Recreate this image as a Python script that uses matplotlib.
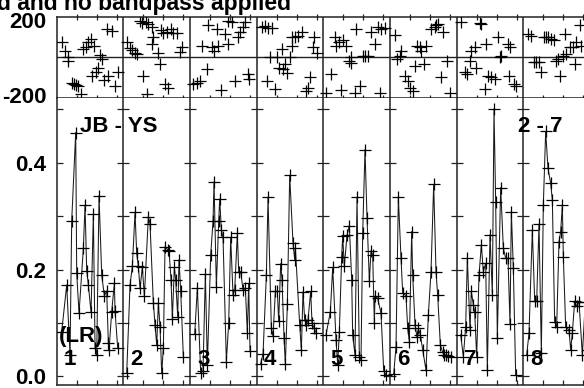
import matplotlib
matplotlib.use("Agg")
import matplotlib.pyplot as plt
from matplotlib.transforms import ScaledTranslation

plt.rcParams['font.family'] = ['Liberation Sans', 'DejaVu Sans']
plt.rcParams['font.weight'] = 'bold'

# ---------------- data (per panel / time segment) ----------------
panel_numbers = ['1', '2', '3', '4', '5', '6', '7', '8']
baseline_label = 'JB - YS'
channel_label = '2 - 7'
pol_label = '(LR)'
title_text = 'd and no bandpass applied'

amp_times = [
    [0.75, 1.5, 2.0, 2.25, 2.85, 3.0, 3.35, 4.0, 4.25, 4.5, 4.75, 5.15, 5.5, 5.75, 6.0, 6.35, 6.75, 7.15, 7.5, 7.75, 7.85, 8.25, 8.65, 8.75, 9.15],
    [0.5, 1.0, 1.35, 1.75, 2.0, 2.25, 2.5, 2.85, 3.15, 3.75, 4.0, 4.5, 4.75, 5.0, 5.25, 5.5, 5.75, 6.0, 6.25, 6.65, 6.85, 7.15, 7.35, 7.65, 7.85, 8.15, 8.35, 8.6, 9.0],
    [0.7, 1.1, 1.6, 1.95, 2.3, 2.6, 3.1, 3.45, 3.6, 3.95, 4.3, 4.45, 4.7, 4.95, 5.45, 5.8, 6.1, 6.45, 6.7, 7.1, 7.3, 7.6, 7.95, 8.3, 8.6, 8.8, 9.0],
    [0.6, 0.95, 1.45, 1.7, 2.2, 2.45, 2.8, 3.1, 3.3, 3.6, 3.8, 4.1, 4.3, 4.6, 4.95, 5.45, 5.7, 5.8, 6.45, 6.7, 6.95, 7.2, 7.45, 7.7, 8.1, 8.3, 8.6, 8.95],
    [0.4, 1.05, 1.4, 1.9, 2.15, 2.4, 2.75, 2.9, 3.15, 3.55, 3.9, 4.25, 4.4, 4.75, 5.05, 5.4, 5.65, 5.9, 6.25, 6.55, 6.9, 7.15, 7.4, 7.65, 7.75, 8.15, 8.65, 9.05, 9.4],
    [0.55, 0.9, 1.25, 1.65, 1.9, 2.4, 2.65, 2.9, 3.25, 3.4, 3.75, 4.05, 4.25, 4.55, 4.9, 5.4, 5.75, 6.15, 6.55, 6.9, 7.15, 7.55, 7.9, 8.15, 8.4, 8.75, 9.15],
    [0.6, 1.0, 1.35, 1.6, 2.0, 2.2, 2.5, 2.7, 3.0, 3.35, 3.7, 4.0, 4.35, 4.6, 5.0, 5.35, 5.6, 5.85, 6.1, 6.6, 7.0, 7.35, 7.7, 8.0, 8.2, 8.5, 8.85],
    [0.5, 0.85, 1.35, 1.7, 2.0, 2.35, 2.7, 3.0, 3.35, 3.7, 4.1, 4.35, 4.7, 5.0, 5.35, 5.6, 5.85, 6.0, 6.35, 6.85, 7.1, 7.35, 7.7, 8.0, 8.35, 8.85, 9.3, 9.7],
]
amp_values = [
    [0.084, 0.171, 0.040, 0.291, 0.456, 0.193, 0.118, 0.240, 0.320, 0.198, 0.171, 0.120, 0.304, 0.054, 0.040, 0.338, 0.190, 0.151, 0.160, 0.062, 0.049, 0.121, 0.174, 0.123, 0.053],
    [0.006, 0.171, 0.206, 0.307, 0.230, 0.206, 0.165, 0.204, 0.150, 0.299, 0.285, 0.137, 0.097, 0.059, 0.137, 0.093, 0.006, 0.053, 0.243, 0.237, 0.235, 0.181, 0.108, 0.204, 0.181, 0.112, 0.218, 0.160, 0.037],
    [0.079, 0.166, 0.006, 0.011, 0.192, 0.022, 0.227, 0.290, 0.364, 0.168, 0.290, 0.332, 0.274, 0.260, 0.028, 0.100, 0.260, 0.153, 0.162, 0.268, 0.196, 0.196, 0.162, 0.165, 0.081, 0.174, 0.047],
    [0.024, 0.042, 0.189, 0.335, 0.090, 0.075, 0.159, 0.159, 0.103, 0.211, 0.181, 0.072, 0.023, 0.135, 0.376, 0.249, 0.218, 0.241, 0.097, 0.049, 0.158, 0.106, 0.097, 0.106, 0.159, 0.100, 0.091, 0.081],
    [0.078, 0.121, 0.204, 0.069, 0.022, 0.084, 0.224, 0.262, 0.206, 0.264, 0.282, 0.181, 0.077, 0.040, 0.335, 0.037, 0.031, 0.268, 0.424, 0.297, 0.178, 0.235, 0.227, 0.100, 0.150, 0.146, 0.118, 0.011, 0.003],
    [0.004, 0.056, 0.335, 0.221, 0.156, 0.151, 0.090, 0.065, 0.271, 0.190, 0.097, 0.073, 0.090, 0.078, 0.050, 0.012, 0.115, 0.196, 0.359, 0.196, 0.152, 0.059, 0.045, 0.040, 0.041, 0.038, 0.037],
    [0.078, 0.037, 0.093, 0.222, 0.087, 0.159, 0.134, 0.121, 0.037, 0.189, 0.246, 0.196, 0.212, 0.012, 0.265, 0.153, 0.500, 0.326, 0.072, 0.353, 0.240, 0.221, 0.221, 0.098, 0.308, 0.202, 0.003],
    [0.040, 0.081, 0.274, 0.141, 0.141, 0.285, 0.044, 0.321, 0.458, 0.389, 0.361, 0.330, 0.102, 0.093, 0.252, 0.271, 0.320, 0.224, 0.093, 0.087, 0.050, 0.081, 0.141, 0.131, 0.140, 0.040, 0.140, 0.050],
]

phase_times = [
    [0.75, 1.25, 1.65, 1.75, 2.25, 2.65, 2.85, 3.15, 3.65, 4.0, 4.35, 4.75, 5.15, 5.25, 5.65, 5.85, 6.15, 6.5, 6.75, 7.15, 7.5, 7.75, 8.25, 8.75, 9.25],
    [0.5, 1.0, 1.35, 1.75, 2.0, 2.5, 2.85, 3.0, 3.35, 3.5, 3.75, 4.25, 4.35, 4.5, 5.25, 5.5, 5.65, 6.0, 6.25, 6.5, 6.75, 7.15, 7.5, 8.0, 8.5, 8.75],
    [0.5, 1.0, 1.5, 1.75, 2.5, 2.75, 3.25, 3.65, 4.0, 4.25, 4.65, 5.25, 5.65, 5.75, 6.25, 6.75, 7.15, 7.5, 8.0, 8.25, 8.65, 8.85],
    [0.75, 1.25, 1.5, 1.75, 2.0, 2.35, 2.75, 3.0, 3.35, 3.75, 4.0, 4.25, 4.5, 5.0, 5.25, 5.35, 5.75, 6.15, 6.75, 7.35, 7.75, 8.0, 8.5, 8.65, 9.0],
    [0.45, 1.2, 1.7, 1.95, 2.3, 2.6, 2.95, 3.45, 3.8, 4.1, 4.2, 4.7, 4.95, 5.45, 5.95, 6.3, 6.7, 7.2, 7.7, 8.2, 8.45, 8.7, 9.2],
    [0.7, 1.1, 1.45, 1.7, 2.3, 2.7, 2.95, 3.45, 3.7, 4.1, 4.45, 4.7, 5.1, 5.45, 6.2, 6.7, 6.95, 7.2, 7.7, 7.95, 8.6, 8.95],
    [0.7, 1.2, 1.6, 1.95, 2.2, 2.7, 2.95, 3.45, 3.7, 4.2, 4.45, 4.7, 5.2, 5.7, 6.2, 6.45, 6.7, 7.7, 7.8, 7.95, 8.6, 8.95],
    [0.7, 1.2, 1.6, 1.95, 2.3, 2.7, 3.1, 3.45, 3.7, 4.1, 4.6, 4.95, 5.2, 5.45, 5.95, 6.2, 6.45, 6.95, 7.45, 7.7, 7.95, 8.45, 8.7],
]
phase_values = [
    [74, 30, 0, -17, -124, -132, -136, -140, -178, 41, 50, 74, 91, -91, 58, -74, -50, 13, -8, -112, 140, -91, 129, -140, -74],
    [74, 46, 36, 20, 18, 178, 169, -91, 174, -178, 165, 149, 66, 99, 20, -33, 136, 119, -132, 124, -152, 140, 119, 119, 25, 50],
    [-132, -124, -116, 58, -58, 157, 50, 33, 140, 58, -162, 116, 66, 178, 174, -116, 99, 124, 149, 174, -83, -107],
    [149, 152, -116, 145, 0, 145, -157, 0, -50, 41, -58, -33, -79, 0, 102, 58, 99, 107, 124, -165, -149, -99, 50, 99, 20],
    [-174, -83, 99, 58, 74, -162, 83, 58, -17, 0, -30, -174, 140, -140, 8, 6, 5, 124, 66, 149, -174, 140, 145],
    [112, -8, 8, 33, -91, -116, -149, -165, -41, 58, 53, 33, -33, 58, 140, 149, 157, 165, -99, 124, -17, -174],
    [175, -74, -83, -17, 33, 50, -50, 169, 165, -157, 66, -91, -99, -107, 99, 0, 8, 66, -91, 50, -132, -140],
    [116, 107, -25, -25, -25, -74, 102, 99, 99, 91, 83, -17, -8, -91, 8, 116, 17, 50, 50, -33, 74, 157, 58],
]

amp_ticks = [0.0, 0.1, 0.2, 0.3, 0.4, 0.5]
amp_ticklabels = ['0.0', '', '0.2', '', '0.4', '']
phase_ticks = [-200, 200]
phase_ticklabels = ['-200', '200']
panel_width = 10.0
time_ticks_in_panel = [3, 6, 9]

# ---------------- figure ----------------
W, H = 584, 388
fig = plt.figure(figsize=(W / 100, H / 100), dpi=100)

x_left_px, x_right_px = 56.7, 590.0
top_y0, top_y1 = 16.7, 98.0       # pixel rows (from top)
bot_y0, bot_y1 = 98.0, 385.0

def fr(x0, y0, x1, y1):
    return [x0 / W, 1 - y1 / H, (x1 - x0) / W, (y1 - y0) / H]

ax_ph = fig.add_axes(fr(x_left_px, top_y0, x_right_px, top_y1))
ax_am = fig.add_axes(fr(x_left_px, bot_y0, x_right_px, bot_y1))

npan = len(panel_numbers)
xmax = npan * panel_width
seps = [panel_width * i for i in range(1, npan)]
xt = [panel_width * p + t for p in range(npan) for t in time_ticks_in_panel]

frame_col = '#222222'
for ax in (ax_ph, ax_am):
    ax.set_xlim(0, xmax)
    for s in ax.spines.values():
        s.set_linewidth(1.1)
        s.set_color(frame_col)
    for sx in seps:
        ax.axvline(sx, color=frame_col, lw=1.1, zorder=1)
    ax.set_xticks(xt)
    ax.set_xticklabels([])

# phase panel
ax_ph.set_ylim(-200, 200)
ax_ph.axhline(0, color=frame_col, lw=1.0, zorder=1)
ax_ph.set_yticks(phase_ticks)
ax_ph.set_yticklabels(phase_ticklabels)
ax_ph.tick_params(axis='x', which='both', direction='inout', top=True, bottom=True,
                  length=5, width=0.9, color=frame_col)
ax_ph.tick_params(axis='y', length=0, pad=7.3, labelsize=16)
for lab, dy in zip(ax_ph.get_yticklabels(), [3, -3]):
    lab.set_transform(lab.get_transform() + ScaledTranslation(0, dy / 100, fig.dpi_scale_trans))
for p in range(npan):
    xs = [panel_width * p + t for t in phase_times[p]]
    ax_ph.plot(xs, phase_values[p], linestyle='none', marker='+', ms=9, mew=0.9,
               color='black', clip_on=True, zorder=3)

# amplitude panel
ax_am.set_ylim(-0.0159, 0.5206)
ax_am.set_yticks(amp_ticks)
ax_am.set_yticklabels(amp_ticklabels)
ax_am.tick_params(axis='y', direction='in', left=True, right=True, length=4.5,
                  width=0.9, color=frame_col, pad=7.3, labelsize=16)
ax_am.tick_params(axis='x', direction='in', bottom=True, top=False, length=3.8,
                  width=0.9, color=frame_col)
ax_am.spines['top'].set_visible(False)
for yv in amp_ticks:
    ax_am.plot(seps, [yv] * len(seps), linestyle='none', marker='_', ms=8, mew=0.9,
               color=frame_col, zorder=2)
for p in range(npan):
    xs = [panel_width * p + t for t in amp_times[p]]
    ax_am.plot(xs, amp_values[p], color='#1a1a1a', lw=0.75, marker='+', ms=9, mew=0.9,
               mec='black', zorder=3)

for ax in (ax_ph, ax_am):
    for lab in ax.get_yticklabels():
        lab.set_fontweight('bold')

# labels inside the amplitude panel
fs = 16
ax_am.text(3.45, 0.457, baseline_label, fontsize=fs, fontweight='bold', ha='left', va='baseline', zorder=5)
ax_am.text(69.2, 0.457, channel_label, fontsize=fs, fontweight='bold', ha='left', va='baseline', zorder=5)
ax_am.text(0.3, 0.0645, pol_label, fontsize=fs, fontweight='bold', ha='left', va='baseline', zorder=5)
for p, lab in enumerate(panel_numbers):
    ax_am.text(panel_width * p + 1.1, 0.0215, lab, fontsize=fs, fontweight='bold',
               ha='left', va='baseline', zorder=5)

fig.text(291 / W, 1 - 10 / H, title_text, fontsize=16.5, fontweight='bold',
         ha='right', va='baseline')

fig.savefig('out.png', dpi=100)
